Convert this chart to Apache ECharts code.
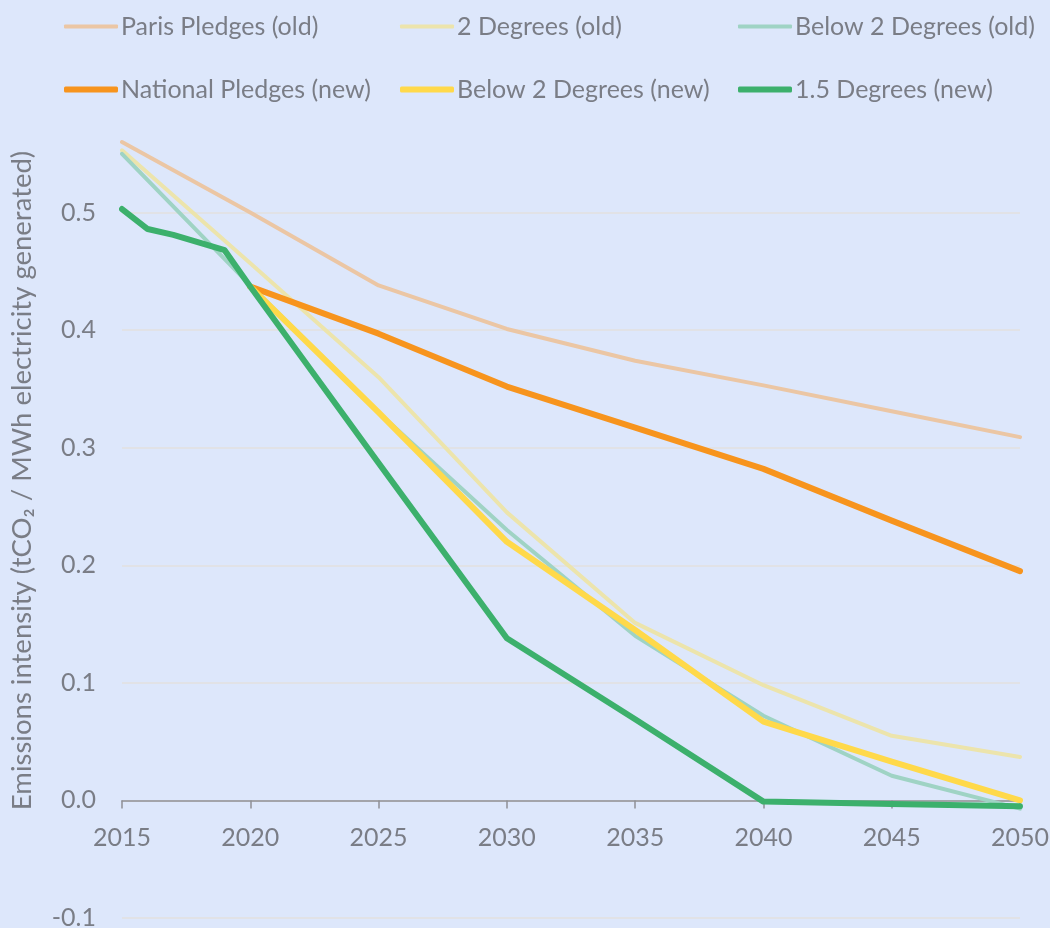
<!DOCTYPE html>
<html>
<head>
<meta charset="utf-8">
<script src="https://cdn.jsdelivr.net/npm/echarts@6/dist/echarts.min.js"></script>
<style>
  html, body { margin: 0; padding: 0; background: #dde7fb; }
  #chart { width: 1050px; height: 928px; }
</style>
</head>
<body>
<div id="chart"></div>
<script>
// years on the x axis (2016-2019 only used by the 1.5 degrees line)
const years = [2015, 2016, 2017, 2019, 2020, 2025, 2030, 2035, 2040, 2045, 2050]

const parisOld = [0.56, null, null, null, 0.50, 0.438, 0.401, 0.374, 0.353, 0.331, 0.309]
const twoDegOld = [0.553, null, null, null, 0.457, 0.36, 0.245, 0.151, 0.098, 0.055, 0.037]
const below2Old = [0.55, null, null, null, 0.438, 0.33, 0.23, 0.14, 0.072, 0.021, -0.007]
const nationalNew = [null, null, null, null, 0.437, 0.397, 0.352, 0.317, 0.282, 0.238, 0.195]
const below2New = [null, null, null, null, 0.437, 0.33, 0.22, 0.145, 0.067, 0.033, 0.0]
const onePointFiveNew = [0.503, 0.486, 0.481, 0.468, 0.437, 0.287, 0.138, 0.069, -0.001, -0.003, -0.005]

const seriesNames = [
  'Paris Pledges (old)', '2 Degrees (old)', 'Below 2 Degrees (old)',
  'National Pledges (new)', 'Below 2 Degrees (new)', '1.5 Degrees (new)'
]
const seriesData = [parisOld, twoDegOld, below2Old, nationalNew, below2New, onePointFiveNew]
const colors = ['#ebc6a4', '#ece4ac', '#9fd3c4', '#f7941d', '#ffd94a', '#3cb06c']
const widths = [4, 4, 4, 6, 6, 6]

const yTicks = [-0.1, 0.0, 0.1, 0.2, 0.3, 0.4, 0.5, 0.6]

const textColor = '#7a7d86'
const font = 'Lato'

const chart = echarts.init(document.getElementById('chart'))

// one legend per item so they sit in the three fixed columns
const legendLeft = [64, 400, 738]
const legendTop = [14, 77]
const legends = seriesNames.map((name, i) => ({
  data: [name],
  left: legendLeft[i % 3],
  top: legendTop[Math.floor(i / 3)],
  icon: 'roundRect',
  itemWidth: 54,
  itemHeight: widths[i],
  itemGap: 0,
  padding: 0,
  textStyle: { color: textColor, fontSize: 25, fontFamily: font, padding: [0, 0, 0, -2] },
  selectedMode: false
}))

const series = seriesData.map((d, i) => ({
  name: seriesNames[i],
  type: 'line',
  data: d.map((v, j) => [years[j], v]),
  connectNulls: true,
  showSymbol: false,
  symbol: 'none',
  lineStyle: { width: widths[i], color: colors[i], cap: 'round', join: 'round' },
  itemStyle: { color: colors[i] }
}))

chart.setOption({
  animation: false,
  backgroundColor: '#dde7fb',
  legend: legends,
  grid: { left: 122, right: 30, top: 95, bottom: 10, containLabel: false, outerBoundsMode: 'none' },
  xAxis: {
    type: 'value',
    min: 2015,
    max: 2050,
    interval: 5,
    axisLine: { onZero: true, lineStyle: { color: '#8e9096', width: 1.5 } },
    axisTick: { show: true, length: 8, lineStyle: { color: '#8e9096', width: 1.5 } },
    axisLabel: {
      color: textColor, fontSize: 25, fontFamily: font,
      // labels sit just under the zero line, not under the bottom of the grid
      margin: -93,
      formatter: v => String(v)
    },
    splitLine: { show: false }
  },
  yAxis: {
    type: 'value',
    min: yTicks[0],
    max: yTicks[yTicks.length - 1],
    interval: 0.1,
    name: 'Emissions intensity (tCO\u2082 / MWh electricity generated)',
    nameLocation: 'middle',
    nameGap: 86,
    nameTextStyle: { color: textColor, fontSize: 27.5, fontFamily: font, padding: [0, 0, 0, 52] },
    axisLine: { show: false },
    axisTick: { show: false },
    axisLabel: {
      color: textColor, fontSize: 25, fontFamily: font, margin: 26,
      formatter: v => (Math.abs(v - 0.6) < 1e-9 ? '' : v.toFixed(1))
    },
    splitLine: {
      show: true,
      lineStyle: {
        width: 2,
        color: yTicks.map((t, i) => (i === yTicks.length - 1 ? 'rgba(0,0,0,0)' : '#e1e2e6'))
      }
    }
  },
  series: series
})
</script>
</body>
</html>
